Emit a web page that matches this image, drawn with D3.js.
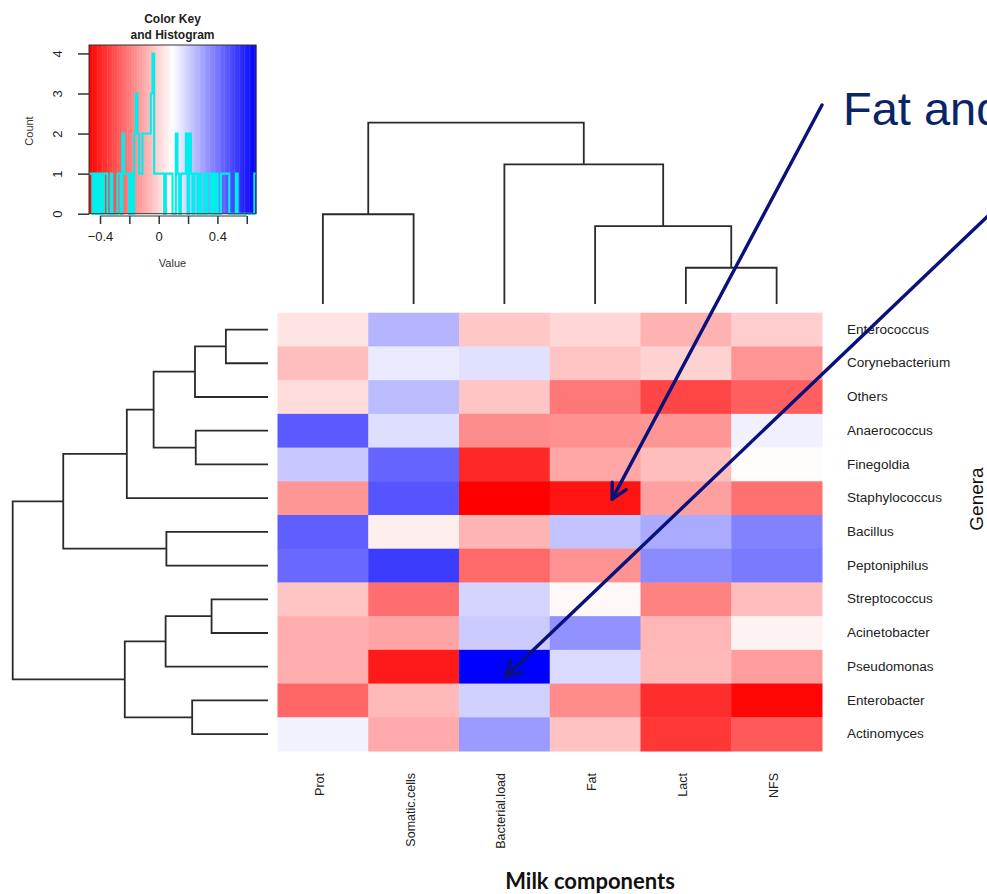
<!DOCTYPE html>
<html>
<head>
<meta charset="utf-8">
<script src="https://cdn.jsdelivr.net/npm/d3@7"></script>
<style>
  body { margin: 0; background: #fff; }
  svg { display: block; }
  text { font-family: "Liberation Sans", Arial, sans-serif; }
</style>
</head>
<body>
<svg id="chart" width="987" height="894"></svg>
<script>
// Rows (genera) and columns (milk components) in dendrogram order
const genera = ["Enterococcus", "Corynebacterium", "Others", "Anaerococcus", "Finegoldia",
  "Staphylococcus", "Bacillus", "Peptoniphilus", "Streptococcus", "Acinetobacter",
  "Pseudomonas", "Enterobacter", "Actinomyces"];
const components = ["Prot", "Somatic.cells", "Bacterial.load", "Fat", "Lact", "NFS"];

// Correlation of each genus with each milk component (row order as above)
const prot          = [0.034, -0.051, 0.016, 0.462, 0.217, -0.140, 0.451, 0.429, -0.038, -0.090, -0.086, -0.245, 0.124];
const somaticCells  = [0.261, 0.139, 0.245, 0.168, 0.440, 0.473, 0.055, 0.529, -0.230, -0.110, -0.418, -0.062, -0.096];
const bacterialLoad = [-0.029, 0.161, -0.035, -0.163, -0.386, -0.475, -0.073, -0.241, 0.190, 0.210, 0.663, 0.196, 0.317];
const fat           = [0.005, -0.040, -0.208, -0.151, -0.105, -0.430, 0.228, -0.148, 0.079, 0.340, 0.176, -0.165, -0.042];
const lact          = [-0.078, -0.006, -0.319, -0.140, -0.050, -0.118, 0.284, 0.352, -0.185, -0.070, -0.062, -0.372, -0.352];
const nfs           = [-0.018, -0.145, -0.263, 0.128, 0.087, -0.222, 0.373, 0.390, -0.053, 0.065, -0.125, -0.462, -0.274];
const columnsData = [prot, somaticCells, bacterialLoad, fat, lact, nfs];

// Hierarchical clustering merges: [left, right, height]; negative = leaf (1-based), positive = earlier merge
const rowMerges = [
  [-1, -2, 0.165], [1, -3, 0.286], [-4, -5, 0.283], [2, 3, 0.448], [4, -6, 0.553],
  [-7, -8, 0.398], [5, 6, 0.802], [-9, -10, 0.221], [8, -11, 0.401], [-12, -13, 0.297],
  [9, 10, 0.561], [7, 11, 1.0]
];
const colMerges = [
  [-5, -6, 0.20], [-4, 1, 0.43], [-1, -2, 0.495], [-3, 2, 0.77], [3, 4, 1.0]
];

// Colour key axis ticks
const keyTicks = [-0.4, -0.2, 0, 0.2, 0.4, 0.6];
const keyTickLabels = ["\u22120.4", "", "0", "", "0.4", ""];
const countTicks = [0, 1, 2, 3, 4];
const nColors = 100;

const svg = d3.select("#chart");

// ---------- scales ----------
const cells = [];
genera.forEach((g, i) => components.forEach((c, j) => cells.push({ g, c, v: columnsData[j][i] })));
const allValues = cells.map(d => d.v);
const [vMin, vMax] = [d3.min(allValues), d3.max(allValues)];
const color = d3.scaleLinear()
  .domain([vMin, (vMin + vMax) / 2, vMax])
  .range(["#ff0000", "#ffffff", "#0000ff"])
  .interpolate(d3.interpolateRgb);

const x = d3.scaleBand().domain(components).range([277.5, 822]);
const y = d3.scaleBand().domain(genera).range([312.7, 751]);

// ---------- heatmap ----------
svg.append("g").selectAll("rect").data(cells).join("rect")
  .attr("x", d => x(d.c))
  .attr("y", d => y(d.g))
  .attr("width", x.bandwidth() + 0.5)
  .attr("height", y.bandwidth() + 0.5)
  .attr("fill", d => color(d.v));

// row labels
svg.append("g").selectAll("text").data(genera).join("text")
  .attr("transform", d => `translate(847,${y(d) + y.bandwidth() / 2}) scale(1.13,1)`)
  .attr("dominant-baseline", "central")
  .attr("font-size", 12)
  .attr("fill", "#222")
  .text(d => d);

// column labels
svg.append("g").selectAll("text").data(components).join("text")
  .attr("transform", d => `translate(${x(d) + x.bandwidth() / 2 + 1},773) rotate(-90)`)
  .attr("text-anchor", "end")
  .attr("font-size", 12.5)
  .attr("fill", "#222")
  .text(d => d);

// ---------- dendrograms ----------
function buildTree(merges, leaves) {
  function make(ref) {
    if (ref < 0) return { name: leaves[-ref - 1], h: 0 };
    const m = merges[ref - 1];
    return { h: m[2], children: [make(m[0]), make(m[1])] };
  }
  return d3.hierarchy(make(merges.length));
}

function drawDendro(root, band, hScale, vertical) {
  root.eachAfter(n => {
    n.pos = n.children ? d3.mean(n.children, c => c.pos) : band(n.data.name) + band.bandwidth() / 2;
  });
  const paths = [];
  root.each(n => {
    if (!n.children) return;
    const [a, b] = n.children;
    const h = hScale(n.data.h);
    if (vertical) {
      paths.push(`M${a.pos},${hScale(a.data.h)}V${h}H${b.pos}V${hScale(b.data.h)}`);
    } else {
      paths.push(`M${hScale(a.data.h)},${a.pos}H${h}V${b.pos}H${hScale(b.data.h)}`);
    }
  });
  svg.append("g").selectAll("path").data(paths).join("path")
    .attr("d", d => d)
    .attr("fill", "none")
    .attr("stroke", "#2a2a2a")
    .attr("stroke-width", 1.8);
}

drawDendro(buildTree(colMerges, components), x, d3.scaleLinear().domain([0, 1]).range([304, 122.7]), true);
drawDendro(buildTree(rowMerges, genera), y, d3.scaleLinear().domain([0, 1]).range([268, 12.7]), false);

// ---------- colour key and histogram ----------
const keyX = d3.scaleLinear().domain([vMin, vMax]).range([89, 256]);
const countY = d3.scaleLinear().domain([0, 4 / 0.95]).range([213.7, 45]);
const breaks = d3.range(nColors + 1).map(i => vMin + i * (vMax - vMin) / nColors);

const key = svg.append("g");
key.selectAll("rect").data(d3.pairs(breaks)).join("rect")
  .attr("x", d => keyX(d[0]))
  .attr("y", 45)
  .attr("width", d => keyX(d[1]) - keyX(d[0]) + 0.4)
  .attr("height", 213.7 - 45)
  .attr("fill", d => color((d[0] + d[1]) / 2));

const bins = d3.bin().domain([vMin, vMax]).thresholds(breaks.slice(1, -1))(allValues);
const stepPts = [];
bins.forEach(b => {
  stepPts.push([keyX(b.x0), countY(b.length)]);
  stepPts.push([keyX(b.x1), countY(b.length)]);
});
key.append("path")
  .attr("d", d3.line()(stepPts))
  .attr("fill", "none")
  .attr("stroke", "#00eeee")
  .attr("stroke-width", 2.1);

key.append("rect")
  .attr("x", 89).attr("y", 45).attr("width", 256 - 89).attr("height", 213.7 - 45)
  .attr("fill", "none").attr("stroke", "#333").attr("stroke-width", 1);

// x axis of the key
const xAxis = key.append("g").attr("transform", "translate(0,216)")
  .call(d3.axisBottom(keyX).tickValues(keyTicks).tickFormat((d, i) => keyTickLabels[i]).tickSize(8).tickPadding(8));
xAxis.select(".domain").remove();
xAxis.append("line")
  .attr("x1", keyX(keyTicks[0])).attr("x2", keyX(keyTicks[keyTicks.length - 1]))
  .attr("stroke", "#333");
xAxis.selectAll(".tick line").attr("stroke", "#333").attr("stroke-width", 1.5);
xAxis.selectAll("text").attr("font-size", 13).attr("fill", "#222")
  .style("font-family", "'Liberation Sans', Arial, sans-serif");

// count axis
const yAxis = key.append("g").attr("transform", "translate(89,0)")
  .call(d3.axisLeft(countY).tickValues(countTicks).tickFormat(d3.format("d")).tickSize(11));
yAxis.select(".domain").remove();
yAxis.selectAll(".tick line").attr("stroke", "#333").attr("stroke-width", 1.5);
yAxis.selectAll("text")
  .attr("x", null).attr("dy", null)
  .attr("transform", "translate(-32,0) rotate(-90)")
  .attr("text-anchor", "middle")
  .attr("dominant-baseline", "central")
  .attr("font-size", 13).attr("fill", "#222")
  .style("font-family", "'Liberation Sans', Arial, sans-serif");

key.append("text").attr("transform", "translate(33,131) rotate(-90)")
  .attr("text-anchor", "middle").attr("font-size", 11).attr("fill", "#333").text("Count");
key.append("text").attr("x", 172.5).attr("y", 267)
  .attr("text-anchor", "middle").attr("font-size", 11).attr("fill", "#333").text("Value");
key.append("text").attr("x", 172.5).attr("y", 23)
  .attr("text-anchor", "middle").attr("font-size", 12).attr("font-weight", "bold").attr("fill", "#222").text("Color Key");
key.append("text").attr("x", 172.5).attr("y", 38.5)
  .attr("text-anchor", "middle").attr("font-size", 12).attr("font-weight", "bold").attr("fill", "#222").text("and Histogram");

// ---------- axis titles ----------
svg.append("text").attr("x", 590).attr("y", 889)
  .attr("text-anchor", "middle").attr("font-size", 22).attr("font-weight", "bold")
  .style("font-family", "Lato, 'Open Sans', sans-serif").attr("fill", "#111")
  .text("Milk components");
svg.append("text").attr("transform", "translate(983,499) rotate(-90)")
  .attr("text-anchor", "middle").attr("font-size", 19).attr("fill", "#111")
  .text("Genera");

// ---------- annotation ----------
const navy = "#08127a";
svg.append("text").attr("x", 843).attr("y", 125)
  .attr("font-size", 47).attr("fill", "#0b2466").text("Fat and");

const annotations = [
  { start: [822, 105], col: "Fat", row: "Staphylococcus", dx: 17, dy: 1 },
  { start: [992, 212], col: "Bacterial.load", row: "Pseudomonas", dx: 1, dy: 10 }
];
const ann = svg.append("g").attr("stroke", navy).attr("stroke-width", 3.4)
  .attr("fill", "none").attr("stroke-linecap", "round").attr("stroke-linejoin", "round");
annotations.forEach(a => {
  const tip = [x(a.col) + x.bandwidth() / 2 + a.dx, y(a.row) + y.bandwidth() / 2 + a.dy];
  ann.append("line").attr("x1", a.start[0]).attr("y1", a.start[1]).attr("x2", tip[0]).attr("y2", tip[1]);
  const ang = Math.atan2(a.start[1] - tip[1], a.start[0] - tip[0]);
  const len = 17, spread = Math.PI / 6.5;
  const p1 = [tip[0] + len * Math.cos(ang - spread), tip[1] + len * Math.sin(ang - spread)];
  const p2 = [tip[0] + len * Math.cos(ang + spread), tip[1] + len * Math.sin(ang + spread)];
  ann.append("path").attr("d", `M${p1}L${tip}L${p2}`);
});
</script>
</body>
</html>
